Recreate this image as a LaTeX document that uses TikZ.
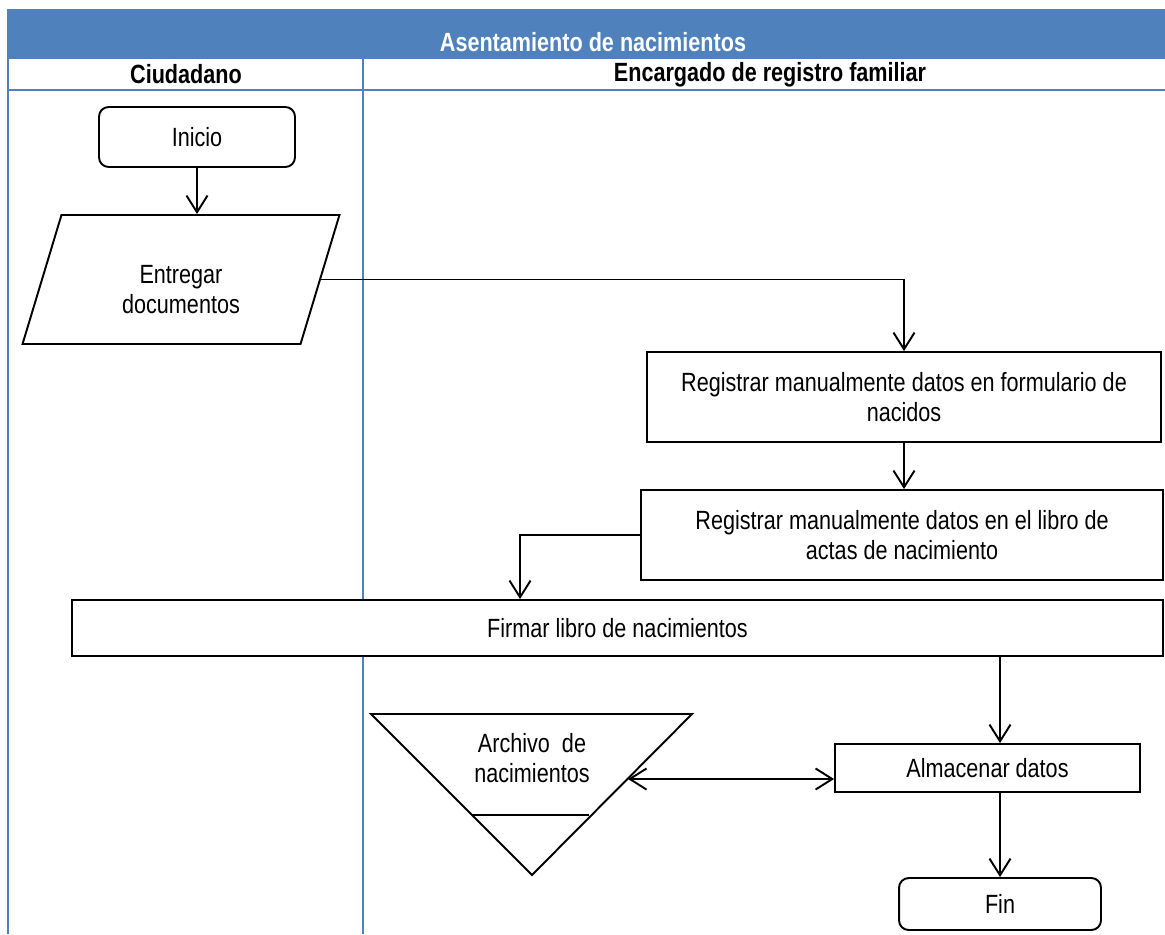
\documentclass[tikz,border=0pt]{standalone}
\usepackage{fontspec}
\setmainfont{Liberation Sans}[FakeStretch=0.82]
\usetikzlibrary{arrows.meta,shapes.geometric}
\definecolor{laneblue}{RGB}{79,129,189}

\begin{document}
\begin{tikzpicture}[x=0.02cm,y=-0.02cm,
  every node/.style={font=\fontsize{15}{17}\selectfont, align=center},
  box/.style={draw, fill=white, line width=1.1pt, inner sep=2pt},
  flow/.style={line width=1.1pt, -{Straight Barb[length=9.5pt,width=12pt,line width=1.1pt]}},
  lane/.style={draw=laneblue, line width=1.2pt},
  headtext/.style={font=\fontsize{15}{17}\selectfont\bfseries},
]
\useasboundingbox (0,0) rectangle (1165,934);

% swimlane frame
\fill[laneblue] (8,10) rectangle (1165,58);
\draw[lane] (1165,10) -- (8,10) -- (8,934);
\draw[lane] (8,58) -- (1165,58);
\draw[lane] (8,90) -- (1165,90);
\draw[lane] (363,58) -- (363,934);
\node[headtext, text=white] (title) at (593,42) {Asentamiento de nacimientos};
\node[headtext] (laneA) at (186,74) {Ciudadano};
\node[headtext] (laneB) at (770,75) {Encargado de registro familiar};

% process steps
\node[box, rounded corners=5.5pt, minimum width=3.92cm, minimum height=1.2cm] (inicio) at (197,137) {Inicio};
\node[box, trapezium, trapezium left angle=75, trapezium right angle=105,
      trapezium stretches=true, minimum width=6.36cm, minimum height=2.58cm] (entregar) at (181,279.5)
  {\rule{0pt}{22pt}Entregar\\documentos};
\node[box, minimum width=10.28cm, minimum height=1.8cm] (form) at (904,397)
  {Registrar manualmente datos en formulario de\\nacidos};
\node[box, minimum width=10.44cm, minimum height=1.8cm] (libro) at (902,535)
  {Registrar manualmente datos en el libro de\\actas de nacimiento};
\node[box, minimum width=21.82cm, minimum height=1.12cm] (firmar) at (617.5,628) {Firmar libro de nacimientos};
\node[box, minimum width=6.1cm, minimum height=0.96cm] (almacenar) at (987.5,768) {Almacenar datos};
\node[box, rounded corners=5.5pt, minimum width=4.04cm, minimum height=1.04cm] (fin) at (1000,904) {Fin};

% archive (inverted triangle)
\coordinate (archTL) at (371,714);
\coordinate (archTR) at (692,714);
\coordinate (archB) at (532,875);
\draw[line width=1.1pt, line join=miter] (archTL) -- (archTR) -- (archB) -- cycle;
\draw[line width=0.8pt] (472,815) -- (589,815);
\node (archivo) at (532,758) {Archivo~~de\\nacimientos};
\coordinate (archR) at (628,779);

% connectors
\draw[flow] (inicio.south) -- (inicio.south |- entregar.north);
\draw[flow] (entregar.east) -| (form.north);
\draw[flow] (form.south) -- (form.south |- libro.north);
\draw[flow] (libro.west) -| ([xshift=-1.95cm]firmar.north);
\draw[flow] ([xshift=0.25cm]almacenar.north |- firmar.south) -- ([xshift=0.25cm]almacenar.north);
\draw[flow] (almacenar.south -| fin.north) -- (fin.north);
\draw[line width=1.1pt, {Straight Barb[length=9.5pt,width=12pt,line width=1.1pt]}-{Straight Barb[length=9.5pt,width=12pt,line width=1.1pt]}]
  (archR) -- (archR -| almacenar.west);
\end{tikzpicture}
\end{document}
